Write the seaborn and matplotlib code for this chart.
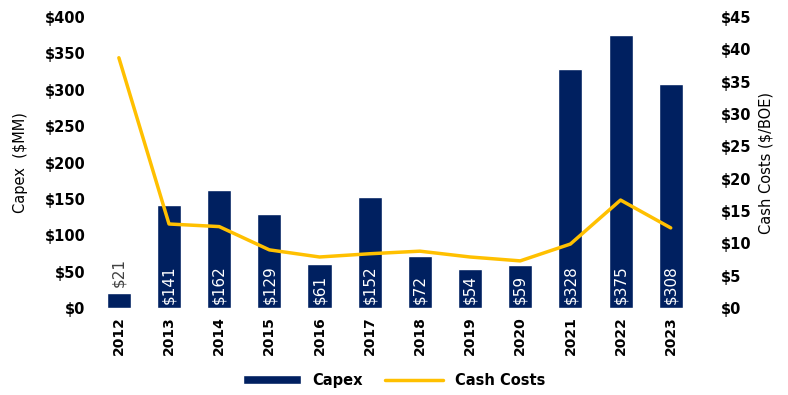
import numpy as np
import pandas as pd
import matplotlib
matplotlib.use('Agg')
import matplotlib.pyplot as plt
from matplotlib.patches import Patch
from matplotlib.lines import Line2D
import seaborn as sns

sns.set_style('white')
plt.rcParams['font.family'] = ['DejaVu Sans']
plt.rcParams['text.color'] = 'black'
plt.rcParams['axes.labelcolor'] = 'black'
plt.rcParams['xtick.color'] = 'black'
plt.rcParams['ytick.color'] = 'black'

years = ['2012', '2013', '2014', '2015', '2016', '2017',
         '2018', '2019', '2020', '2021', '2022', '2023']
capex = [21, 141, 162, 129, 61, 152, 72, 54, 59, 328, 375, 308]
cash_costs = [38.7, 13.0, 12.6, 9.0, 7.9, 8.4, 8.8, 7.9, 7.3, 9.9, 16.7, 12.4]

navy = '#002060'
gold = '#FFC000'

df = pd.DataFrame({'Year': years, 'Capex': capex, 'Cash': cash_costs})
df['pos'] = np.arange(len(df))

fig = plt.figure(figsize=(7.88, 3.95), dpi=100)
ax = fig.add_axes([0.119, 0.22, 0.764, 0.737])

sns.barplot(data=df, x='Year', y='Capex', color=navy, width=0.48,
            saturation=1, ax=ax)
ax.set_ylim(0, 400)
ax.set_xlim(-0.5, len(years) - 0.5)
ax.set_yticks(range(0, 401, 50))
ax.set_yticklabels([f'${v}' for v in range(0, 401, 50)],
                   fontsize=10.5, fontweight='bold')
ax.set_xticks(df['pos'])
ax.set_xticklabels(years, rotation=90, fontsize=10, fontweight='bold')
ax.tick_params(axis='both', length=0, pad=6)
ax.set_xlabel('')
ax.set_ylabel('Capex  ($MM)', fontsize=10.5, labelpad=12)

# bar value labels
for i, v in enumerate(capex):
    if v < 40:
        ax.text(i, v + 8, f'${v}', rotation=90, ha='center', va='bottom',
                color='#404040', fontsize=11)
    else:
        ax.text(i, 5, f'${v}', rotation=90, ha='center', va='bottom',
                color='white', fontsize=11)

ax2 = ax.twinx()
sns.lineplot(data=df, x='pos', y='Cash', color=gold, lw=2.5, ax=ax2)
ax2.set_ylim(0, 45)
ax2.set_yticks(range(0, 46, 5))
ax2.set_yticklabels([f'${v}' for v in range(0, 46, 5)],
                    fontsize=10.5, fontweight='bold')
ax2.tick_params(axis='y', length=0, pad=18)
ax2.set_ylabel('Cash Costs ($/BOE)', fontsize=10.5, labelpad=5)
ax2.set_xlabel('')

for a in (ax, ax2):
    for s in a.spines.values():
        s.set_visible(False)

handles = [Patch(facecolor=navy, label='Capex'),
           Line2D([0], [0], color=gold, lw=2.5, label='Cash Costs')]
fig.legend(handles=handles, loc='lower center', ncol=2, frameon=False,
           bbox_to_anchor=(0.5, -0.015), handlelength=4, handleheight=0.5,
           prop={'size': 10.5, 'weight': 'bold'}, columnspacing=1.5)

fig.savefig('out.png', dpi=100)
